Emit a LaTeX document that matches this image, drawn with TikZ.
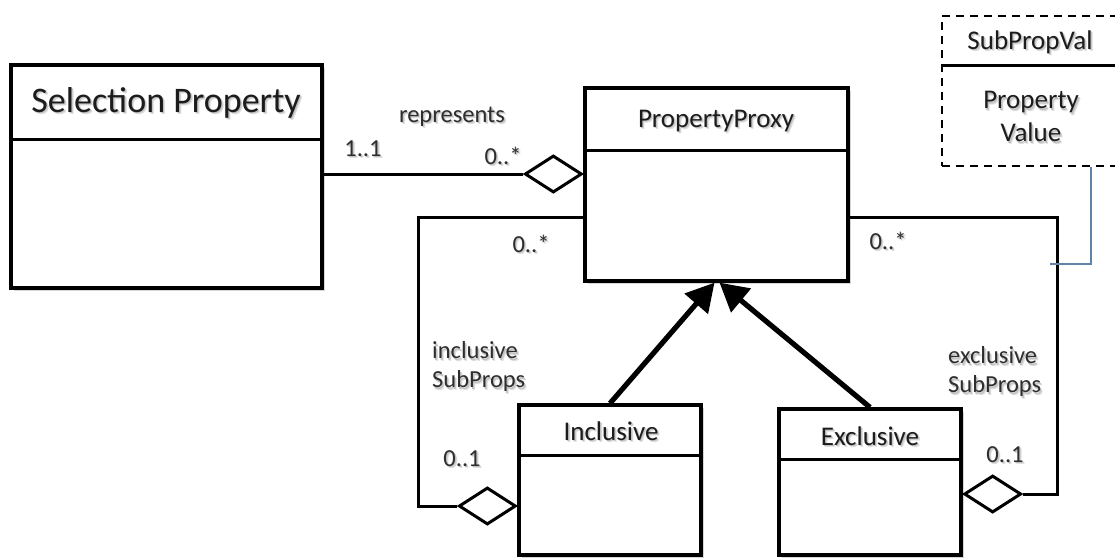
\documentclass[tikz,border=0pt]{standalone}
\usepackage{fontspec}
\setmainfont{Carlito}
\usetikzlibrary{arrows.meta,shapes.geometric,shadows}

\definecolor{linkblue}{RGB}{96,132,168}
\definecolor{ink}{RGB}{28,28,28}

% text with a soft grey shadow behind it
\newcommand\shd[1]{%
  \makebox[0pt][l]{\hspace{2.2pt}\raisebox{-2.2pt}{\textcolor{black!12}{#1}}}%
  \makebox[0pt][l]{\hspace{1.2pt}\raisebox{-1.2pt}{\textcolor{black!24}{#1}}}#1}

\tikzset{
  classbox/.style={draw=black, line width=3.3pt, fill=white, inner sep=0pt,
    drop shadow={shadow xshift=2.5pt, shadow yshift=-2.5pt, fill=black, opacity=0.16}},
  divider/.style={draw=black, line width=3.3pt},
  valbox/.style={draw=black, line width=2.4pt, dash pattern=on 8pt off 6pt, fill=white, inner sep=0pt},
  bigname/.style={font=\fontsize{36}{43}\selectfont, inner sep=0pt, text=ink},
  classname/.style={font=\fontsize{27}{32}\selectfont, inner sep=0pt, text=ink},
  lbl/.style={font=\fontsize{24.5}{30}\selectfont, inner sep=0pt, text=black!82},
  assoc/.style={draw=black, line width=3pt},
  aggr/.style={diamond, draw=black, line width=3pt, fill=white, inner sep=0pt,
    minimum width=57pt, minimum height=37pt},
  inherit/.style={draw=black, line width=5.2pt,
    -{Triangle[length=28pt,width=30pt]}},
  noteline/.style={draw=linkblue, line width=1.3pt}
}

\begin{document}
\begin{tikzpicture}[x=1pt, y=-1pt]
\useasboundingbox[fill=white] (0,0) rectangle (1115,557);

% ---- class boxes ----
\node[classbox, minimum width=311pt, minimum height=223pt] (sp) at (166.5,176.5) {};
\draw[divider] ([yshift=-76pt]sp.north west) -- ([yshift=-76pt]sp.north east);
\node[bigname] (spt) at (166,104) {\shd{Selection Property}};

\node[classbox, minimum width=263pt, minimum height=193pt] (pp) at (716.5,184.5) {};
\draw[divider] ([yshift=-64pt]pp.north west) -- ([yshift=-64pt]pp.north east);
\node[classname] (ppt) at (716,122) {\shd{PropertyProxy}};

\node[classbox, minimum width=182pt, minimum height=150pt] (inc) at (610,480) {};
\draw[divider] ([yshift=-52pt]inc.north west) -- ([yshift=-52pt]inc.north east);
\node[classname] (inct) at (611,432) {\shd{Inclusive}};

\node[classbox, minimum width=182pt, minimum height=146pt] (exc) at (870,482) {};
\draw[divider] ([yshift=-52pt]exc.north west) -- ([yshift=-52pt]exc.north east);
\node[classname] (exct) at (870,437) {\shd{Exclusive}};

% ---- dashed value box ----
\node[valbox, minimum width=188pt, minimum height=150pt] (spv) at (1036,91) {};
\draw[divider] ([yshift=-51pt]spv.north west) -- ([yshift=-51pt]spv.north east);
\node[classname] (spvt) at (1030,43) {\shd{SubPropVal}};
\node[classname, align=center] (spvb) at (1031,118) {\shd{Property}\\[1pt]\shd{Value}};

% ---- associations with aggregation diamonds ----
\node[aggr, anchor=east] (d1) at ([yshift=10.5pt]pp.west) {};
\draw[assoc] (d1.west) -- (d1.west -| sp.east);

\node[aggr, anchor=east] (d2) at ([yshift=-26pt]inc.west) {};
\draw[assoc] ([yshift=-32.5pt]pp.west) -- ++(-165,0) |- (d2.west);

\node[aggr, anchor=west] (d3) at ([yshift=-12pt]exc.east) {};
\draw[assoc] ([yshift=-32.5pt]pp.east) -- ++(208,0) |- (d3.east);

% ---- generalisations ----
\draw[inherit] (inc.north) -- ([xshift=-2pt]pp.south);
\draw[inherit] (exc.north) -- ([xshift=3pt]pp.south);

% ---- note link ----
\coordinate (noteend) at (1050,264);
\draw[noteline] ([xshift=55pt]spv.south) |- (noteend);

% ---- labels ----
\node[lbl] (lrep) at (452,118) {\shd{represents}};
\node[lbl] (l11) at (363,150) {\shd{1..1}};
\node[lbl] (lm1) at (503,157) {\shd{0..*}};
\node[lbl] (lm2) at (531,245) {\shd{0..*}};
\node[lbl] (lm3) at (888,242) {\shd{0..*}};
\node[lbl, anchor=west, align=left] (linc) at (432,368) {\shd{inclusive}\\[-1pt]\shd{SubProps}};
\node[lbl, anchor=west, align=left] (lexc) at (948,373) {\shd{exclusive}\\[-1pt]\shd{SubProps}};
\node[lbl] (l01a) at (462,460) {\shd{0..1}};
\node[lbl] (l01b) at (1005,456) {\shd{0..1}};
\end{tikzpicture}
\end{document}
